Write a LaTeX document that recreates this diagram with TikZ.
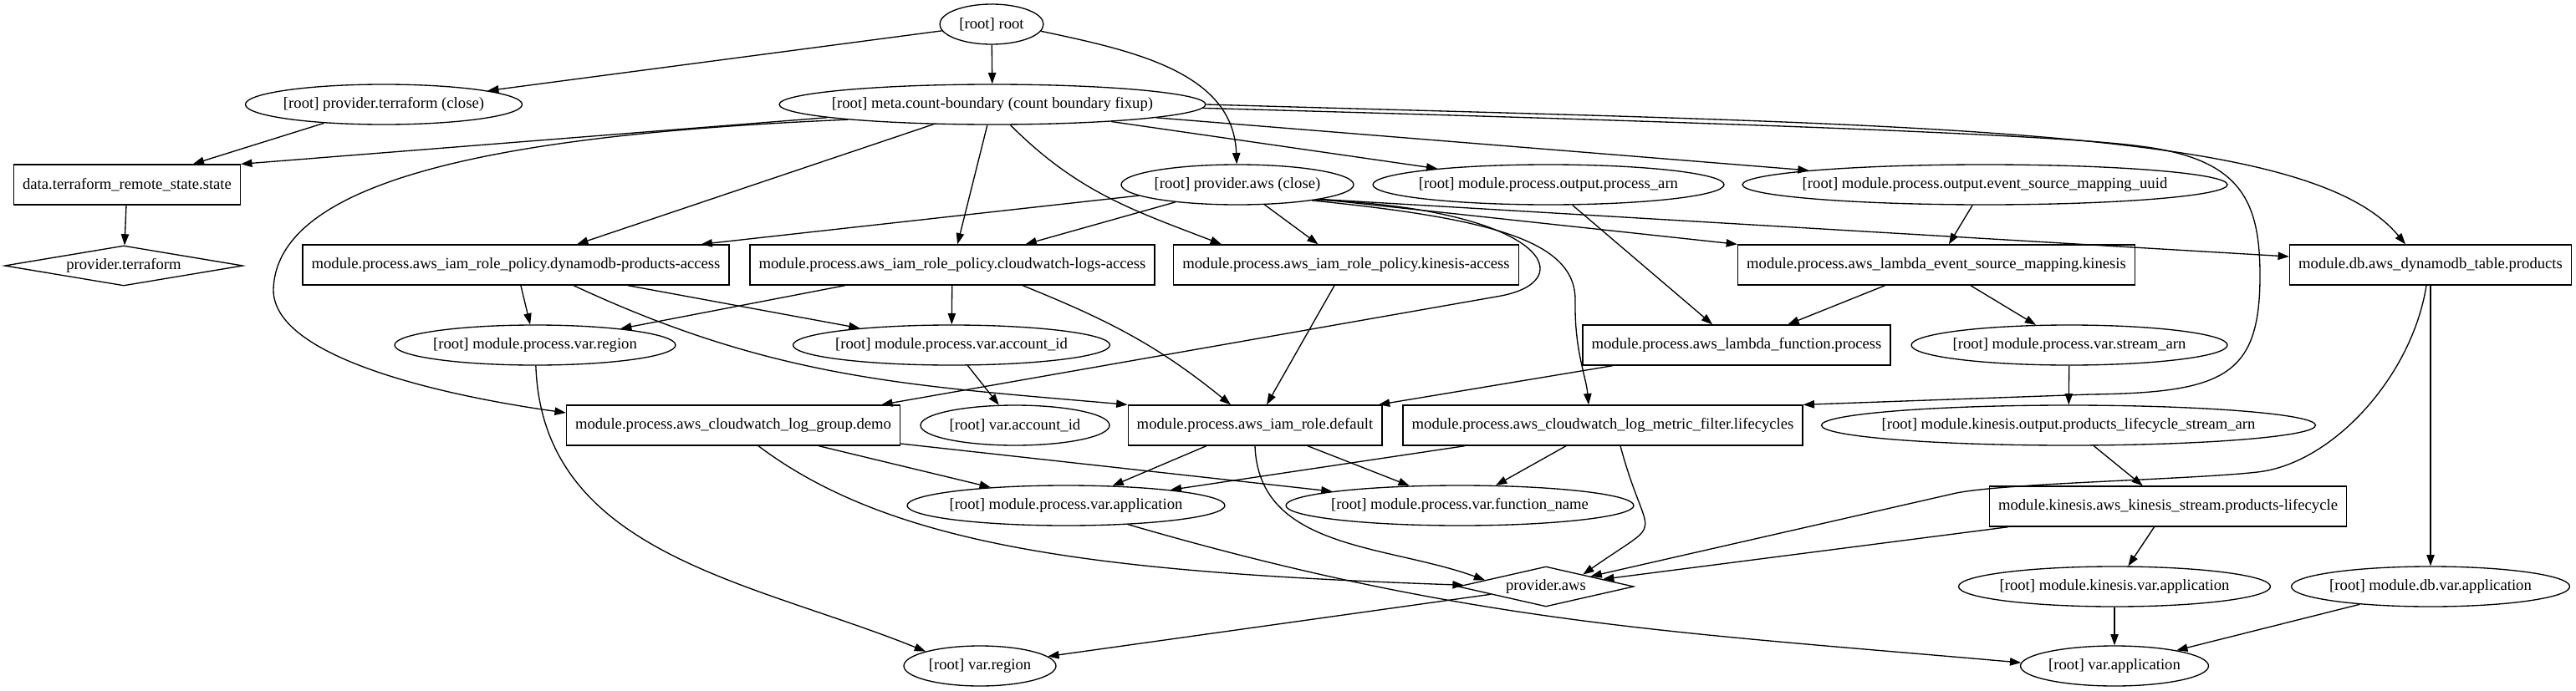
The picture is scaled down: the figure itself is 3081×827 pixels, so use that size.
\documentclass[tikz,border=0pt]{standalone}
\usepackage{fontspec}
\setmainfont{Liberation Serif}
\usetikzlibrary{shapes.geometric, arrows.meta}

\begin{document}
\begin{tikzpicture}[
    x=1pt, y=-1pt,
    resource/.style={draw, rectangle, line width=1.33pt, minimum height=48pt, inner xsep=10.56pt, font=\fontsize{18.67}{22.4}\selectfont},
    oval/.style={draw, ellipse, line width=1.33pt, minimum height=48pt, inner xsep=-16pt, inner ysep=0pt, font=\fontsize{18.67}{22.4}\selectfont},
    provider/.style={draw, diamond, aspect=5, line width=1.33pt, minimum height=48pt, inner sep=0pt, font=\fontsize{18.67}{22.4}\selectfont},
    arrow/.style={draw, line width=1.33pt, -{Triangle[length=13.3pt, width=9.33pt]}}
]
\useasboundingbox (0,0) rectangle (3081,827);

% graph nodes, one row after another
\node[oval, minimum width=124pt] (root) at (1186,29) {[root] root};

\node[oval, minimum width=331pt] (ptclose) at (459,125) {[root] provider.terraform (close)};
\node[oval, minimum width=510pt] (meta) at (1187,125) {[root] meta.count-boundary (count boundary fixup)};

\node[resource] (state) at (152,221) {data.terraform\_remote\_state.state};
\node[oval, minimum width=278pt] (pawsclose) at (1480,221) {[root] provider.aws (close)};
\node[oval, minimum width=420pt] (outarn) at (1852,221) {[root] module.process.output.process\_arn};
\node[oval, minimum width=580pt] (outuuid) at (2374,221) {[root] module.process.output.event\_source\_mapping\_uuid};

\node[provider, minimum width=285pt] (ptf) at (148,318) {provider.terraform};
\node[resource] (dpa) at (617,317) {module.process.aws\_iam\_role\_policy.dynamodb-products-access};
\node[resource] (cla) at (1139,317) {module.process.aws\_iam\_role\_policy.cloudwatch-logs-access};
\node[resource] (kna) at (1610,317) {module.process.aws\_iam\_role\_policy.kinesis-access};
\node[resource] (esm) at (2316,317) {module.process.aws\_lambda\_event\_source\_mapping.kinesis};
\node[resource] (ddb) at (2907,317) {module.db.aws\_dynamodb\_table.products};

\node[oval, minimum width=336pt] (pregion) at (640,413) {[root] module.process.var.region};
\node[oval, minimum width=379pt] (paccount) at (1138,413) {[root] module.process.var.account\_id};
\node[resource] (lambdafn) at (2077,413) {module.process.aws\_lambda\_function.process};
\node[oval, minimum width=378pt] (streamarn) at (2475,413) {[root] module.process.var.stream\_arn};

\node[resource] (loggroup) at (877,509) {module.process.aws\_cloudwatch\_log\_group.demo};
\node[oval, minimum width=226pt] (accountid) at (1214,509) {[root] var.account\_id};
\node[resource] (iamrole) at (1501,509) {module.process.aws\_iam\_role.default};
\node[resource] (metricfilter) at (1917,509) {module.process.aws\_cloudwatch\_log\_metric\_filter.lifecycles};
\node[oval, minimum width=591pt] (kinoutarn) at (2474,509) {[root] module.kinesis.output.products\_lifecycle\_stream\_arn};

\node[oval, minimum width=380pt] (papp) at (1275,605) {[root] module.process.var.application};
\node[oval, minimum width=416pt] (fname) at (1746,605) {[root] module.process.var.function\_name};
\node[resource] (kstream) at (2593,606) {module.kinesis.aws\_kinesis\_stream.products-lifecycle};

\node[provider, minimum width=210pt] (pawsd) at (1849,702) {provider.aws};
\node[oval, minimum width=373pt] (kapp) at (2529,702) {[root] module.kinesis.var.application};
\node[oval, minimum width=333pt] (dbapp) at (2907,702) {[root] module.db.var.application};

\node[oval, minimum width=182pt] (region) at (1172,797) {[root] var.region};
\node[oval, minimum width=225pt] (application) at (2529,797) {[root] var.application};

% dependencies
\draw[arrow] (root) -- (ptclose);
\draw[arrow] (root) -- (meta);
\draw[arrow] (root.-8) to[out=-12, in=92] (pawsclose);
\draw[arrow] (ptclose) -- (state);
\draw[arrow] (state) -- (ptf);

\draw[arrow] (meta) -- (state.north east);
\draw[arrow] (meta.186) .. controls (620,160) and (330,210) .. (327,347)
    .. controls (327,430) and (540,475) .. ([yshift=15pt]loggroup.west);
\draw[arrow] (meta) -- (dpa);
\draw[arrow] (meta) -- (cla);
\draw[arrow] (meta.-49) to[out=-45, in=159] ([xshift=-149pt]kna.north);
\draw[arrow] (meta) -- (outarn);
\draw[arrow] (meta) -- (outuuid);
\draw[arrow] (meta.-0.6) .. controls (2300,150) and (2760,150) .. ([xshift=-30pt]ddb.north);
\draw[arrow] (meta.-1.2) .. controls (2000,145) and (2450,160) .. (2560,175)
    .. controls (2680,190) and (2703,240) .. (2703,330)
    .. controls (2703,450) and (2660,470) .. (2500,472) -- (metricfilter.north east);

\draw[arrow] (pawsclose) -- (dpa);
\draw[arrow] (pawsclose) -- (cla);
\draw[arrow] (pawsclose) -- (kna);
\draw[arrow] (pawsclose.-10) -- (esm.north west);
\draw[arrow] (pawsclose.-10) -- (ddb);
\draw[arrow] (pawsclose.-11) .. controls (1850,250) and (1895,338) .. (1790,355) -- ([xshift=-23pt]loggroup.north east);
\draw[arrow] (pawsclose.-12) .. controls (1790,262) and (1885,290) .. (1884,360)
    .. controls (1883,420) and (1897,450) .. ([xshift=-17pt]metricfilter.north);

\draw[arrow] (outarn) -- (lambdafn);
\draw[arrow] (outuuid) -- (esm);
\draw[arrow] (esm) -- (lambdafn);
\draw[arrow] (esm) -- (streamarn);

\draw[arrow] (dpa) -- (pregion);
\draw[arrow] ([xshift=69pt]dpa.south) to[out=-25, in=175] (iamrole.north west);
\draw[arrow] (dpa) -- (paccount);
\draw[arrow] (cla) -- (pregion);
\draw[arrow] (cla) -- (paccount);
\draw[arrow] ([xshift=84pt]cla.south) to[out=-22, in=141] ([xshift=-29pt]iamrole.north);
\draw[arrow] (kna) -- (iamrole);
\draw[arrow] (lambdafn) -- (iamrole);
\draw[arrow] (paccount) -- (accountid);
\draw[arrow] (pregion) to[out=-88, in=158] (region.165);

\draw[arrow] (streamarn) -- (kinoutarn);
\draw[arrow] (kinoutarn) -- (kstream);
\draw[arrow] (kstream) -- (kapp);
\draw[arrow] (kstream) -- (pawsd);
\draw[arrow] (ddb) -- (dbapp);
\draw[arrow] ([xshift=-5pt]ddb.south) .. controls (2885,450) and (2790,555) .. (2700,565)
    .. controls (2620,574) and (2400,578) .. (2340,590) -- (pawsd);

\draw[arrow] (loggroup) -- (papp);
\draw[arrow] (loggroup) -- (fname);
\draw[arrow] ([xshift=30pt]loggroup.south) to[out=-37, in=178, out looseness=0.6, in looseness=1.3] (pawsd.179);
\draw[arrow] (iamrole) -- (papp);
\draw[arrow] (iamrole) -- (fname);
\draw[arrow] (iamrole.south) to[out=-88, in=160] (pawsd.174);
\draw[arrow] (metricfilter) -- (papp);
\draw[arrow] (metricfilter) -- (fname);
\draw[arrow] ([xshift=21pt]metricfilter.south) to[out=-75, in=35, looseness=2] (pawsd.18);

\draw[arrow] (papp.-17) .. controls (1756,746) and (1997,756) .. (application.178);
\draw[arrow] (pawsd) -- (region);
\draw[arrow] (kapp) -- (application);
\draw[arrow] (dbapp) -- (application);

\end{tikzpicture}
\end{document}
